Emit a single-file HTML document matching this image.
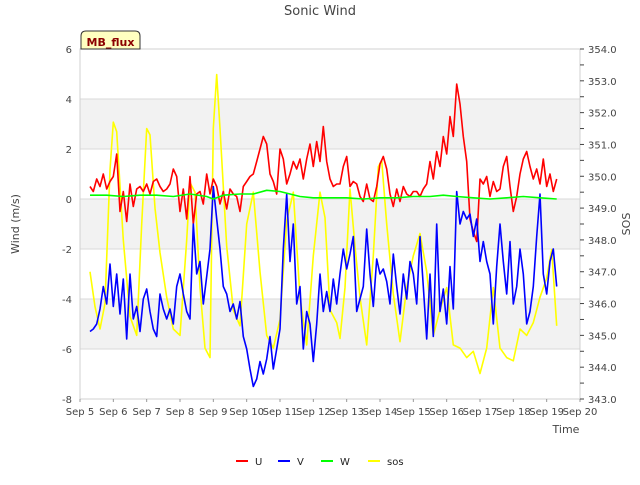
<!DOCTYPE html>
<html><head><meta charset="utf-8"><style>
body{margin:0;background:#fff;font-family:"Liberation Sans","DejaVu Sans",sans-serif}
svg text{font-family:"DejaVu Sans","Liberation Sans",sans-serif}
</style></head><body>
<svg id="chart" width="640" height="480" xmlns="http://www.w3.org/2000/svg">
<text x="320" y="15" text-anchor="middle" font-size="13" fill="#444">Sonic Wind</text>
<g id="bands"></g><g id="grid"></g><g id="axes"></g><g id="series"></g>
<g>
<path d="M81,49 L81,36 Q81,31 86,31 L135,31 Q140,31 140,36 L140,49 Z" fill="#ffffc0" stroke="#333" stroke-width="1"/>
<text x="110.5" y="46" text-anchor="middle" font-size="11" font-weight="bold" fill="#8b0000">MB_flux</text></g>
<text x="566" y="433" text-anchor="middle" font-size="11" fill="#444">Time</text>
<text transform="translate(19,224) rotate(-90)" text-anchor="middle" font-size="11" fill="#444">Wind (m/s)</text>
<text transform="translate(630,224) rotate(-90)" text-anchor="middle" font-size="11" fill="#444">SOS</text>
<g id="legend"></g>
</svg>
<script>
const xTicks=[5,6,7,8,9,10,11,12,13,14,15,16,17,18,19,20];
const yTicks=[-8,-6,-4,-2,0,2,4,6];
const y2Ticks=[343,344,345,346,347,348,349,350,351,352,353,354];
const uT=[5.3,5.4,5.5,5.6,5.7,5.8,5.9,6.0,6.1,6.2,6.3,6.4,6.5,6.6,6.7,6.8,6.9,7.0,7.1,7.2,7.3,7.4,7.5,7.6,7.7,7.8,7.9,8.0,8.1,8.2,8.3,8.4,8.5,8.6,8.7,8.8,8.9,9.0,9.1,9.2,9.3,9.4,9.5,9.6,9.7,9.8,9.9,10.0,10.1,10.2,10.3,10.4,10.5,10.6,10.7,10.8,10.9,11.0,11.1,11.2,11.3,11.4,11.5,11.6,11.7,11.8,11.9,12.0,12.1,12.2,12.3,12.4,12.5,12.6,12.7,12.8,12.9,13.0,13.1,13.2,13.3,13.4,13.5,13.6,13.7,13.8,13.9,14.0,14.1,14.2,14.3,14.4,14.5,14.6,14.7,14.8,14.9,15.0,15.1,15.2,15.3,15.4,15.5,15.6,15.7,15.8,15.9,16.0,16.1,16.2,16.3,16.4,16.5,16.6,16.7,16.8,16.9,17.0,17.1,17.2,17.3,17.4,17.5,17.6,17.7,17.8,17.9,18.0,18.1,18.2,18.3,18.4,18.5,18.6,18.7,18.8,18.9,19.0,19.1,19.2,19.3];
const uVals=[0.5,0.3,0.8,0.5,1.0,0.4,0.7,0.9,1.8,-0.5,0.3,-0.9,0.6,-0.3,0.4,0.5,0.3,0.6,0.2,0.7,0.8,0.5,0.3,0.4,0.6,1.2,0.9,-0.5,0.4,-0.8,0.9,-1.0,0.2,0.3,-0.2,1.0,0.2,0.8,0.5,-0.2,0.3,-0.4,0.4,0.2,0.1,-0.5,0.5,0.7,0.9,1.0,1.5,2.0,2.5,2.2,1.0,0.7,0.2,2.0,1.6,0.6,1.0,1.5,1.2,1.6,0.8,1.6,2.2,1.3,2.3,1.5,2.9,1.5,0.8,0.5,0.6,0.6,1.3,1.7,0.5,0.7,0.6,0.1,-0.1,0.6,0.0,-0.1,0.5,1.4,1.7,1.2,0.2,-0.3,0.4,-0.1,0.5,0.2,0.1,0.3,0.3,0.1,0.4,0.6,1.5,0.8,1.9,1.3,2.5,1.8,3.3,2.5,4.6,3.8,2.5,1.5,-0.8,-1.3,-1.7,0.8,0.6,0.9,0.1,0.7,0.3,0.4,1.3,1.7,0.5,-0.5,0.1,1.0,1.6,1.9,1.3,0.8,1.2,0.6,1.6,0.5,1.0,0.3,0.8,0.3];
const vT=[5.3,5.4,5.5,5.6,5.7,5.8,5.9,6.0,6.1,6.2,6.3,6.4,6.5,6.6,6.7,6.8,6.9,7.0,7.1,7.2,7.3,7.4,7.5,7.6,7.7,7.8,7.9,8.0,8.1,8.2,8.3,8.4,8.5,8.6,8.7,8.8,8.9,9.0,9.1,9.2,9.3,9.4,9.5,9.6,9.7,9.8,9.9,10.0,10.1,10.2,10.3,10.4,10.5,10.6,10.7,10.8,10.9,11.0,11.1,11.2,11.3,11.4,11.5,11.6,11.7,11.8,11.9,12.0,12.1,12.2,12.3,12.4,12.5,12.6,12.7,12.8,12.9,13.0,13.1,13.2,13.3,13.4,13.5,13.6,13.7,13.8,13.9,14.0,14.1,14.2,14.3,14.4,14.5,14.6,14.7,14.8,14.9,15.0,15.1,15.2,15.3,15.4,15.5,15.6,15.7,15.8,15.9,16.0,16.1,16.2,16.3,16.4,16.5,16.6,16.7,16.8,16.9,17.0,17.1,17.2,17.3,17.4,17.5,17.6,17.7,17.8,17.9,18.0,18.1,18.2,18.3,18.4,18.5,18.6,18.7,18.8,18.9,19.0,19.1,19.2,19.3];
const vVals=[-5.3,-5.2,-5.0,-4.4,-3.5,-4.2,-2.6,-4.3,-3.0,-4.6,-3.2,-5.6,-3.0,-4.8,-4.3,-5.3,-4.0,-3.6,-4.5,-5.2,-5.5,-3.8,-4.4,-4.8,-4.4,-5.0,-3.5,-3.0,-3.8,-4.5,-4.8,-1.0,-3.0,-2.5,-4.2,-3.1,-2.0,0.5,-0.8,-2.0,-3.5,-3.8,-4.5,-4.2,-4.8,-4.1,-5.5,-6.0,-6.8,-7.5,-7.2,-6.5,-7.0,-6.4,-5.5,-6.8,-6.0,-5.2,-2.0,0.2,-2.5,-1.0,-4.2,-3.5,-6.0,-4.5,-5.0,-6.5,-5.0,-3.0,-4.5,-3.7,-4.5,-3.2,-4.2,-3.0,-2.0,-2.8,-2.2,-1.5,-4.5,-4.0,-3.5,-1.2,-3.0,-4.3,-2.4,-3.0,-2.8,-3.3,-4.2,-2.2,-3.5,-4.6,-3.0,-4.0,-2.5,-3.0,-4.2,-1.5,-3.5,-5.6,-3.0,-5.5,-1.0,-4.5,-3.6,-5.0,-2.7,-4.4,0.3,-1.0,-0.5,-0.8,-0.6,-1.5,-0.8,-2.5,-1.7,-2.5,-3.0,-5.0,-2.7,-1.0,-2.5,-3.8,-1.7,-4.2,-3.5,-2.0,-3.0,-5.0,-4.5,-3.5,-1.5,0.2,-3.0,-3.8,-2.5,-2.0,-3.5,-2.8,-3.2];
const wT=[5.3,5.8,6.3,6.8,7.3,7.8,8.3,8.8,9.0,9.3,9.8,10.2,10.6,11.0,11.3,11.6,12.0,12.5,13.0,13.5,14.0,14.5,15.0,15.5,15.9,16.3,16.8,17.3,17.8,18.3,18.8,19.3];
const wVals=[0.15,0.15,0.1,0.15,0.15,0.1,0.2,0.1,0.0,0.15,0.2,0.2,0.35,0.3,0.2,0.1,0.05,0.05,0.05,0.0,0.05,0.05,0.1,0.1,0.15,0.1,0.05,0.0,0.05,0.1,0.05,0.0];
const sosT=[5.3,5.45,5.6,5.75,5.9,6.0,6.1,6.3,6.5,6.7,6.85,7.0,7.1,7.25,7.4,7.6,7.8,8.0,8.2,8.3,8.45,8.6,8.75,8.9,9.0,9.1,9.2,9.4,9.6,9.8,10.0,10.2,10.4,10.6,10.8,11.0,11.2,11.4,11.6,11.8,12.0,12.2,12.35,12.5,12.7,12.8,12.95,13.1,13.25,13.4,13.6,13.8,13.95,14.05,14.2,14.4,14.6,14.8,15.0,15.2,15.4,15.6,15.8,16.0,16.2,16.4,16.6,16.8,17.0,17.2,17.4,17.6,17.8,18.0,18.2,18.4,18.6,18.8,19.0,19.15,19.3];
const sosVals=[347.0,345.9,345.2,346.0,350.2,351.7,351.4,348.0,345.6,345.0,348.5,351.5,351.3,349.0,347.6,346.2,345.2,345.0,348.0,349.8,349.5,346.5,344.6,344.3,351.5,353.2,351.5,347.8,345.8,345.3,348.5,349.5,347.0,345.0,344.6,345.5,348.6,349.5,346.2,344.7,347.5,349.5,348.7,345.8,345.4,344.9,346.5,349.6,347.8,346.2,344.7,347.5,350.3,350.5,348.5,346.3,344.8,346.5,347.5,348.2,347.0,345.0,345.8,346.5,344.7,344.6,344.3,344.5,343.8,344.6,346.5,344.6,344.3,344.2,345.2,345.0,345.4,346.2,346.8,347.7,345.3];

const NS="http://www.w3.org/2000/svg";
const L=80,R=580,T=49,B=399;
const xs=d=>L+(d-5)*(R-L)/15;
const ys=v=>T+(6-v)*(B-T)/14;
const ys2=v=>T+(354-v)*(B-T)/11;
function mk(tag,attrs,parent){const e=document.createElementNS(NS,tag);for(const k in attrs)e.setAttribute(k,attrs[k]);document.getElementById(parent).appendChild(e);return e;}
[[4,2],[0,-2],[-4,-6]].forEach(b=>{const r=mk('rect',{x:L,y:ys(b[0]),width:R-L,height:ys(b[1])-ys(b[0]),fill:'#f2f2f2'},'bands');

});
yTicks.forEach(v=>{const l=mk('line',{x1:L,x2:R,y1:ys(v),y2:ys(v),stroke:'#d9d9d9','stroke-width':1},'grid');


const t=mk('text',{x:L-8,y:ys(v)+4,'text-anchor':'end','font-size':10,fill:'#444'},'axes');t.textContent=v;

});
mk('rect',{x:L,y:T,width:R-L,height:B-T,fill:'none',stroke:'#d0d0d0'},'grid');
xTicks.forEach(d=>{const t=mk('text',{x:xs(d),y:415,'text-anchor':'middle','font-size':10,fill:'#444'},'axes');t.textContent='Sep '+d;


mk('line',{x1:xs(d),x2:xs(d),y1:B,y2:B+3,stroke:'#999'},'axes');});
y2Ticks.forEach(v=>{mk('line',{x1:R,x2:R+4,y1:ys2(v),y2:ys2(v),stroke:'#444'},'axes');
if(v<354)mk('line',{x1:R,x2:R+4,y1:ys2(v+0.5),y2:ys2(v+0.5),stroke:'#444'},'axes');
const t=mk('text',{x:R+8,y:ys2(v)+4,'font-size':10,fill:'#444'},'axes');t.textContent=v.toFixed(1);

});
function line(tx,vals,sc,col,name){const p=mk('polyline',{points:tx.map((d,i)=>xs(d).toFixed(1)+','+sc(vals[i]).toFixed(1)).join(' '),fill:'none',stroke:col,'stroke-width':1.6,'stroke-linejoin':'round'},'series');

}
line(sosT,sosVals,ys2,'#ffff00','sos-line');
line(uT,uVals,ys,'#ff0000','u-line');
line(vT,vVals,ys,'#0000ff','v-line');
line(wT,wVals,ys,'#00ff00','w-line');
[['U','#ff0000',236],['V','#0000ff',278],['W','#00ff00',321],['sos','#ffff00',368]].forEach(e=>{
mk('line',{x1:e[2],x2:e[2]+12,y1:461,y2:461,stroke:e[1],'stroke-width':2},'legend');
const t=mk('text',{x:e[2]+19,y:465,'font-size':10,fill:'#222'},'legend');t.textContent=e[0];

});
</script>
</body></html>
